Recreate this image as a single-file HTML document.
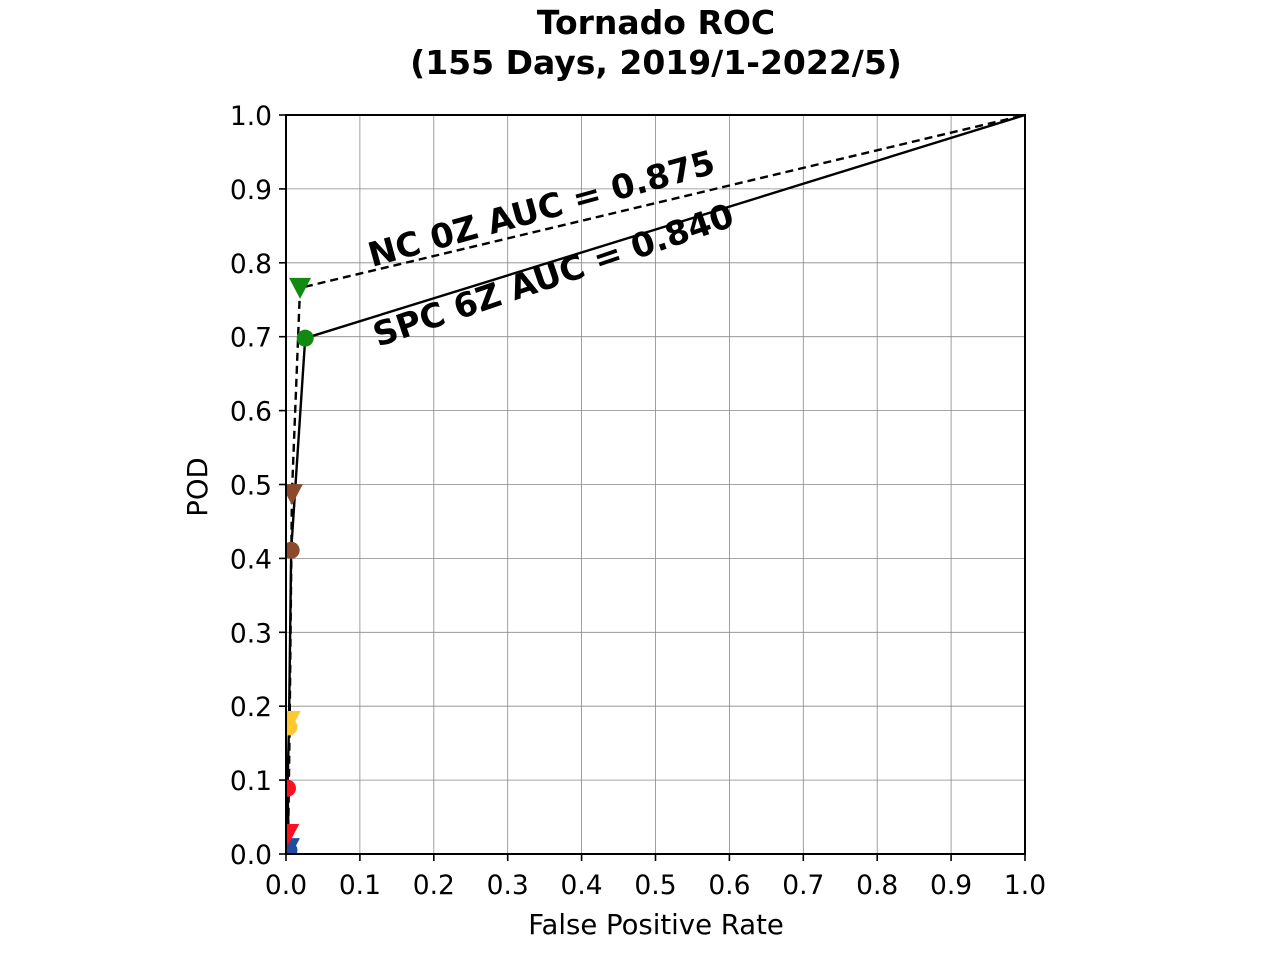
<!DOCTYPE html>
<html><head><meta charset="utf-8"><style>
body{margin:0;background:#fff}
svg text{font-family:"DejaVu Sans","Liberation Sans",sans-serif}
</style></head><body>
<svg width="1280" height="960" viewBox="0 0 1280 960" xmlns="http://www.w3.org/2000/svg">
<defs><clipPath id="clip"><rect x="286" y="115" width="739" height="739"/></clipPath></defs>
<text x="656" y="34" font-size="33" font-weight="bold" text-anchor="middle">Tornado ROC</text>
<text x="656" y="74" font-size="33" font-weight="bold" text-anchor="middle">(155 Days, 2019/1-2022/5)</text>
<g id="grid"></g>
<g id="lines" clip-path="url(#clip)"></g>
<g id="marks" clip-path="url(#clip)"></g>
<rect x="286" y="115" width="739" height="739" fill="none" stroke="#000" stroke-width="2"/>
<g id="ticks"></g>
<text x="656" y="934" font-size="27.5" text-anchor="middle">False Positive Rate</text>
<text transform="translate(207,487) rotate(-90)" font-size="27.5" text-anchor="middle">POD</text>
<text transform="translate(372,267) rotate(-15.3)" font-size="33.5" font-weight="bold">NC 0Z AUC = 0.875</text>
<text transform="translate(378,347) rotate(-18.8)" font-size="33.5" font-weight="bold">SPC 6Z AUC = 0.840</text>
</svg>
<script>
const ticks=[0,0.1,0.2,0.3,0.4,0.5,0.6,0.7,0.8,0.9,1.0];
const tickLabels=["0.0","0.1","0.2","0.3","0.4","0.5","0.6","0.7","0.8","0.9","1.0"];
const spcFpr=[0,0.004,0.002,0.004,0.007,0.026,1];
const spcPod=[0,0.005,0.089,0.172,0.411,0.698,1];
const ncFpr=[0,0.004,0.003,0.005,0.008,0.019,1];
const ncPod=[0,0.008,0.027,0.180,0.487,0.766,1];
const colors=["#1f4e9e","#1f4e9e","#ff1020","#ffc830","#8b4a2b","#128a12"];
const ncColors=["#1f4e9e","#1f4e9e","#ff1020","#ffc830","#8b4a2b","#128a12"];
const NS="http://www.w3.org/2000/svg";
const X=v=>286+v*739, Y=v=>854-v*739;
function mk(t,p,a){const e=document.createElementNS(NS,t);for(const k in a)e.setAttribute(k,a[k]);p.appendChild(e);return e;}
const g=document.getElementById('grid'),tk=document.getElementById('ticks');
ticks.forEach((t,i)=>{
 let l=mk('line',g,{x1:X(t),x2:X(t),y1:115,y2:854,stroke:'#888','stroke-width':0.8});
 
 l=mk('line',g,{x1:286,x2:1025,y1:Y(t),y2:Y(t),stroke:'#888','stroke-width':0.8});
 
 mk('line',tk,{x1:X(t),x2:X(t),y1:854,y2:861,stroke:'#000','stroke-width':1.6});
 mk('line',tk,{x1:279,x2:286,y1:Y(t),y2:Y(t),stroke:'#000','stroke-width':1.6});
 let tx=mk('text',tk,{x:X(t),y:894,'font-size':26.5,'text-anchor':'middle'});tx.textContent=tickLabels[i];
 
 tx=mk('text',tk,{x:272,y:Y(t)+10,'font-size':26.5,'text-anchor':'end'});tx.textContent=tickLabels[i];
 
});
const ln=document.getElementById('lines'),mg=document.getElementById('marks');
let p=mk('polyline',ln,{points:spcFpr.map((v,i)=>X(v)+','+Y(spcPod[i])).join(' '),fill:'none',stroke:'#000','stroke-width':2.4});

p=mk('polyline',ln,{points:ncFpr.map((v,i)=>X(v)+','+Y(ncPod[i])).join(' '),fill:'none',stroke:'#000','stroke-width':2.4,'stroke-dasharray':'8,5'});

for(let i=1;i<6;i++){
 const c=mk('circle',mg,{cx:X(spcFpr[i]),cy:Y(spcPod[i]),r:8.5,fill:colors[i]});
 
 const x=X(ncFpr[i]),y=Y(ncPod[i]);
 const t=mk('polygon',mg,{points:`${x-11},${y-10} ${x+11},${y-10} ${x},${y+11}`,fill:ncColors[i]});
 
}
</script>
</body></html>
